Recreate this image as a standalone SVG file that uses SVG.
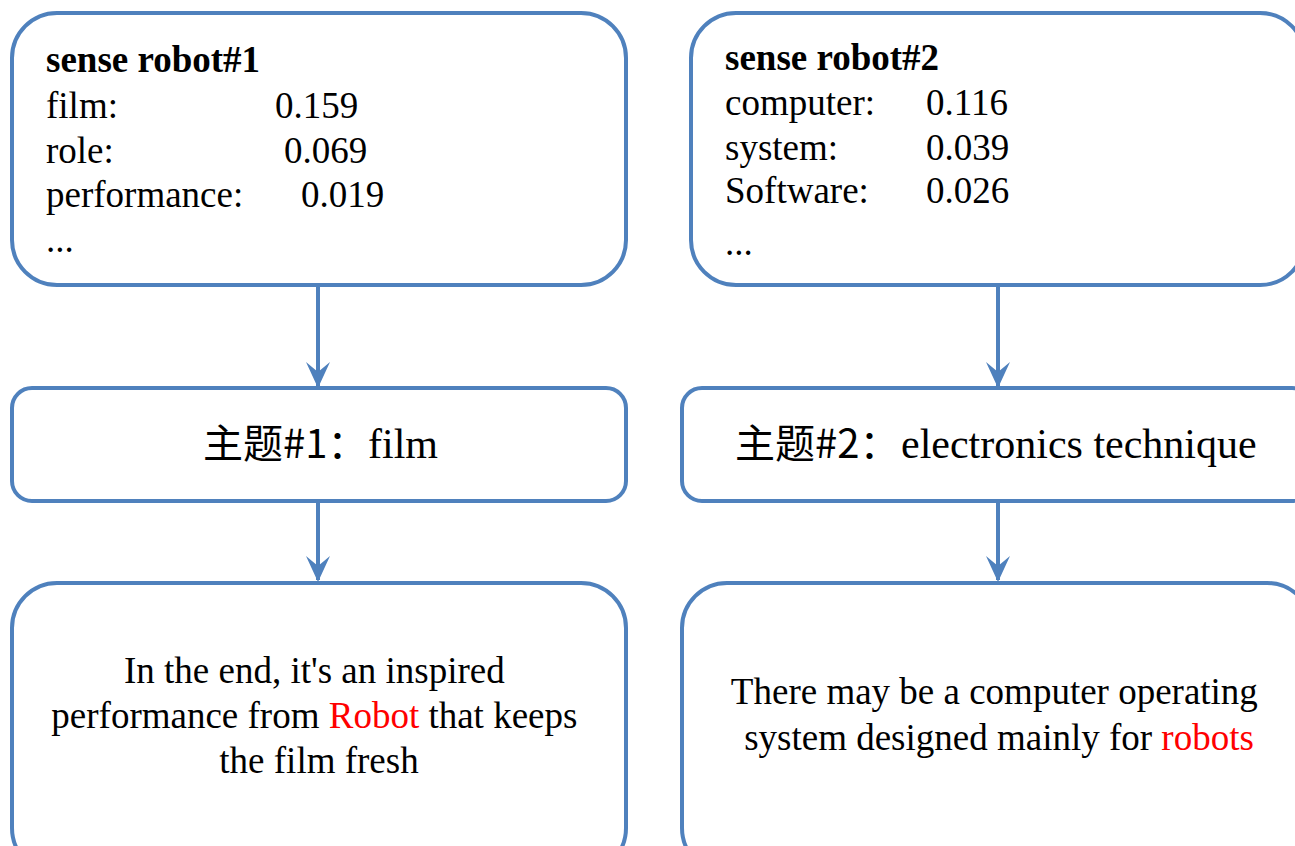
<svg xmlns="http://www.w3.org/2000/svg" width="1295" height="846" viewBox="0 0 1295 846">
  <style>
    .box { fill: #ffffff; stroke: #4f81bd; stroke-width: 4; }
    .edge { stroke: #4f81bd; stroke-width: 4; fill: none; }
    .t { font-family: "Liberation Serif", "Times New Roman", serif; font-size: 37px; fill: #000000; }
    .b { font-weight: bold; }
    .lt { font-family: "Liberation Serif", "Times New Roman", serif; font-size: 42px; fill: #000000; }
    .cjk { font-family: "Noto Sans CJK SC", "Liberation Sans", sans-serif; font-size: 40px; fill: #000000; }
    .hl { fill: #ff0000; }
  </style>
  <defs>
    <marker id="arrow" viewBox="0 0 26 24" refX="24" refY="12" markerWidth="26" markerHeight="24" markerUnits="userSpaceOnUse" orient="auto">
      <path d="M0,0 L26,12 L0,24 L10,12 Z" fill="#4f81bd"/>
    </marker>
  </defs>

  <!-- connectors -->
  <g id="connectors">
    <line class="edge" x1="318" y1="285" x2="318" y2="386" marker-end="url(#arrow)"/>
    <line class="edge" x1="318" y1="502" x2="318" y2="580" marker-end="url(#arrow)"/>
    <line class="edge" x1="998" y1="285" x2="998" y2="386" marker-end="url(#arrow)"/>
    <line class="edge" x1="998" y1="502" x2="998" y2="580" marker-end="url(#arrow)"/>
  </g>

  <!-- sense word lists -->
  <g id="sense1">
    <rect class="box" x="12" y="13" width="614" height="272" rx="45" ry="45"/>
    <text class="t b" x="46" y="72">sense robot#1</text>
    <text class="t" x="46" y="118">film:</text>
    <text class="t" x="275" y="118">0.159</text>
    <text class="t" x="46" y="163">role:</text>
    <text class="t" x="284" y="163">0.069</text>
    <text class="t" x="46" y="207">performance:</text>
    <text class="t" x="301" y="207">0.019</text>
    <text class="t" x="46" y="252">...</text>
  </g>

  <g id="sense2">
    <rect class="box" x="691" y="13" width="614" height="272" rx="45" ry="45"/>
    <text class="t b" x="725" y="70">sense robot#2</text>
    <text class="t" x="725" y="115">computer:</text>
    <text class="t" x="926" y="115">0.116</text>
    <text class="t" x="725" y="160">system:</text>
    <text class="t" x="926" y="160">0.039</text>
    <text class="t" x="725" y="203">Software:</text>
    <text class="t" x="926" y="203">0.026</text>
    <text class="t" x="725" y="255">...</text>
  </g>

  <!-- topics -->
  <g id="topic1">
    <rect class="box" x="12" y="388" width="614" height="113" rx="20" ry="20"/>
    <text y="458"><tspan class="cjk" x="203">主题#1：</tspan><tspan class="lt" x="368">film</tspan></text>
  </g>

  <g id="topic2">
    <rect class="box" x="682" y="388" width="630" height="113" rx="20" ry="20"/>
    <text y="458"><tspan class="cjk" x="735">主题#2：</tspan><tspan class="lt" x="901">electronics technique</tspan></text>
  </g>

  <!-- example sentences -->
  <g id="example1">
    <rect class="box" x="12" y="583" width="614" height="290" rx="45" ry="45"/>
    <text class="t" text-anchor="middle">
      <tspan x="319" y="683">In the end, it's an inspired</tspan>
      <tspan x="319" y="728">performance from <tspan class="hl">Robot</tspan> that keeps</tspan>
      <tspan x="319" y="773">the film fresh</tspan>
    </text>
  </g>

  <g id="example2">
    <rect class="box" x="682" y="583" width="630" height="290" rx="45" ry="45"/>
    <text class="t" text-anchor="middle">
      <tspan x="999" y="704">There may be a computer operating</tspan>
      <tspan x="999" y="750">system designed mainly for <tspan class="hl">robots</tspan></tspan>
    </text>
  </g>
</svg>
